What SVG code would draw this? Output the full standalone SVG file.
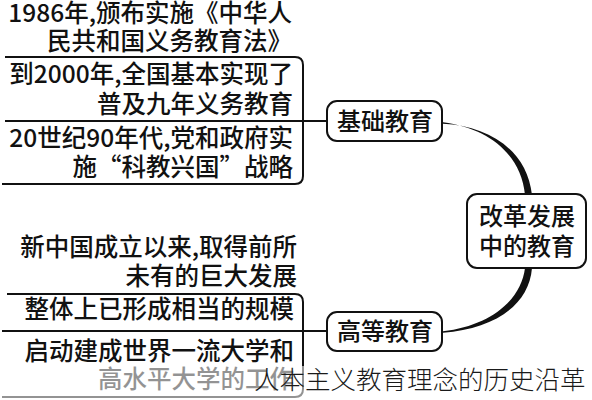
<svg xmlns="http://www.w3.org/2000/svg" width="592" height="400" viewBox="0 0 592 400">
<style>
.t{font-family:"Noto Sans CJK SC","Noto Sans",sans-serif;font-size:24.5px;font-weight:500;fill:#111;text-anchor:end}
.n{font-family:"Noto Sans CJK SC","Noto Sans",sans-serif;font-size:24px;font-weight:500;fill:#111;text-anchor:middle}
.box{fill:#fff;stroke:#111;stroke-width:2}
.ln{fill:none;stroke:#111;stroke-width:2}
.wm{font-family:"Noto Sans CJK SC","Noto Sans",sans-serif;font-size:25.5px;font-weight:300;fill:#1a1a1a}
</style>
<rect width="592" height="400" fill="#fff"/>
<g id="connectors">
<path class="ln" d="M5,57 H295 Q303,57 303,65 V176 Q303,184 295,184 H2"/>
<path class="ln" d="M5,121 H327"/>
<path class="ln" d="M7,294 H295 Q303,294 303,302 V389 Q303,397 295,397 H2"/>
<path class="ln" d="M2,331 H327"/>
<path fill="#111" d="M443,122.3 C487,128 521,153 525,195 L532,195 C527,150 489,126 443,123.7 Z"/>
<path fill="#111" d="M525,268 L532,268 C529,306 493,329 443,332.7 L443,331.3 C489,326 521,301 525,268 Z"/>
</g>
<g id="block-basic-text">
<text class="t" x="292" y="22">1986年,颁布实施《中华人</text>
<text class="t" x="292" y="50">民共和国义务教育法》</text>
<text class="t" x="293" y="83">到2000年,全国基本实现了</text>
<text class="t" x="293" y="113">普及九年义务教育</text>
<text class="t" x="293" y="147">20世纪90年代,党和政府实</text>
<text class="t" x="293" y="176">施“科教兴国”战略</text>
</g>
<g id="block-higher-text">
<text class="t" x="297" y="256">新中国成立以来,取得前所</text>
<text class="t" x="297" y="285">未有的巨大发展</text>
<text class="t" x="294" y="318">整体上已形成相当的规模</text>
<text class="t" x="294" y="360">启动建成世界一流大学和</text>
<text class="t" x="294" y="388">高水平大学的工作</text>
</g>
<g id="node-basic">
<rect class="box" x="327" y="101" width="115" height="40" rx="10"/>
<text class="n" x="385" y="130">基础教育</text>
</g>
<g id="node-higher">
<rect class="box" x="327" y="312" width="115" height="39" rx="10"/>
<text class="n" x="385" y="340">高等教育</text>
</g>
<g id="node-center">
<rect class="box" x="467" y="194" width="119" height="74" rx="10"/>
<text class="n" x="527" y="225">改革发展</text>
<text class="n" x="527" y="255">中的教育</text>
</g>
<rect x="0" y="366" width="592" height="34" fill="#fff" opacity="0.55"/>
<text class="wm" x="254" y="389">人本主义教育理念的历史沿革</text>
</svg>
